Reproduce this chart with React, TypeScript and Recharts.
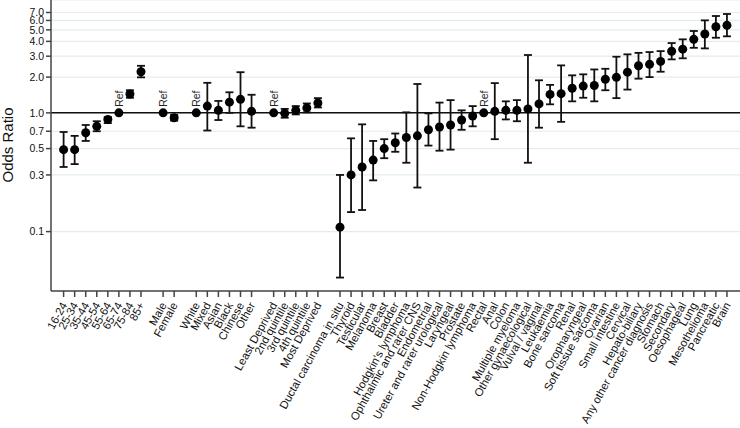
import React from 'react';
import { ScatterChart, Scatter, XAxis, YAxis, CartesianGrid, ReferenceLine, ErrorBar, LabelList } from 'recharts';

// '' marks an empty slot between groups
const categories = [
  '16-24', '25-34', '35-44', '45-54', '55-64', '65-74', '75-84', '85+', '',
  'Male', 'Female', '',
  'White', 'Mixed', 'Asian', 'Black', 'Chinese', 'Other', '',
  'Least Deprived', '2nd quintile', '3rd quintile', '4th quintile', 'Most Deprived', '',
  'Ductal carcinoma in situ', 'Thyroid', 'Testicular', 'Melanoma', 'Breast', 'Bladder',
  "Hodgkin's lymphoma", 'Ophthalmic and rarer CNS', 'Endometrial', 'Ureter and rarer urological',
  'Laryngeal', 'Prostate', 'Non-Hodgkin lymphoma', 'Rectal', 'Anal', 'Colon', 'Multiple myeloma',
  'Other gynaecological', 'Vulval / vaginal', 'Leukaemia', 'Bone sarcoma', 'Renal', 'Oropharyngeal',
  'Soft tissue sarcoma', 'Ovarian', 'Small intestine', 'Cervical', 'Hepato-biliary',
  'Any other cancer diagnosis', 'Stomach', 'Secondary', 'Oesophageal', 'Lung', 'Mesothelioma',
  'Pancreatic', 'Brain',
];

const oddsRatio = [
  0.49, 0.49, 0.68, 0.77, 0.88, 1, 1.44, 2.22, null,
  1, 0.91, null,
  1, 1.14, 1.05, 1.23, 1.30, 1.03, null,
  1, 0.99, 1.05, 1.10, 1.21, null,
  0.109, 0.30, 0.35, 0.40, 0.50, 0.56, 0.62, 0.64, 0.72, 0.76, 0.79, 0.87, 0.94, 1, 1.03, 1.05, 1.05,
  1.08, 1.19, 1.43, 1.45, 1.61, 1.68, 1.70, 1.92, 1.99, 2.20, 2.49, 2.56, 2.71, 3.30, 3.44, 4.16, 4.61,
  5.31, 5.46,
];

const ciLow = [
  0.35, 0.37, 0.58, 0.70, 0.82, 1, 1.34, 1.99, null,
  1, 0.86, null,
  1, 0.71, 0.87, 1.00, 0.77, 0.75, null,
  1, 0.91, 0.97, 1.01, 1.11, null,
  0.041, 0.146, 0.152, 0.27, 0.415, 0.47, 0.38, 0.235, 0.53, 0.48, 0.49, 0.72, 0.77, 1, 0.60, 0.88, 0.85,
  0.38, 0.75, 1.18, 0.84, 1.25, 1.34, 1.25, 1.55, 1.33, 1.57, 1.94, 2.00, 2.22, 2.82, 2.88, 3.53, 3.49,
  4.29, 4.41,
];

const ciHigh = [
  0.69, 0.64, 0.79, 0.85, 0.92, 1, 1.55, 2.49, null,
  1, 0.96, null,
  1, 1.79, 1.26, 1.49, 2.20, 1.42, null,
  1, 1.08, 1.14, 1.20, 1.33, null,
  0.30, 0.61, 0.80, 0.58, 0.60, 0.67, 1.01, 1.75, 0.99, 1.22, 1.28, 1.05, 1.14, 1, 1.78, 1.25, 1.28,
  3.07, 1.88, 1.72, 2.51, 2.07, 2.11, 2.32, 2.35, 2.97, 3.11, 3.20, 3.25, 3.31, 3.87, 4.16, 4.89, 6.01,
  6.54, 6.80,
];

const referenceGroups = ['65-74', 'Male', 'White', 'Least Deprived', 'Rectal'];

const yTicks = [0.1, 0.3, 0.5, 0.7, 1.0, 2.0, 3.0, 4.0, 5.0, 6.0, 7.0];

const points = categories
  .map((name, i) => ({ name, x: i, or: oddsRatio[i], lo: ciLow[i], hi: ciHigh[i] }))
  .filter(d => d.name !== '');

const estimates = points
  .filter(d => !referenceGroups.includes(d.name))
  .map(d => ({ ...d, err: [d.or - d.lo, d.hi - d.or] }));

const refs = points
  .filter(d => referenceGroups.includes(d.name))
  .map(d => ({ ...d, label: 'Ref' }));

const xTicks = points.map(d => d.x);

const FONT = '"Liberation Sans", Arial, sans-serif';

const Dot = (props: any) => <circle cx={props.cx} cy={props.cy} r={4.5} fill="#000" />;

const AngledTick = (props: any) => {
  const { x, y, payload } = props;
  const ax = x + 4;
  const ay = y + 6;
  return (
    <text x={ax} y={ay} transform={`rotate(-61, ${ax}, ${ay})`} textAnchor="end"
      fontFamily={FONT} fontSize={11.3} fill="#111">
      {categories[payload.value]}
    </text>
  );
};

const RefLabel = (props: any) => {
  const { x, y, width, height, value } = props;
  const cx = x + width / 2;
  const cy = y + height / 2;
  const tx = cx + 4;
  const ty = cy - 6;
  return (
    <text x={tx} y={ty} transform={`rotate(-90, ${tx}, ${ty})`} textAnchor="start"
      fontFamily={FONT} fontSize={10.5} fill="#222">
      {value}
    </text>
  );
};

const YTitle = () => (
  <text x={13} y={145} transform="rotate(-90, 13, 145)" textAnchor="middle"
    fontFamily={FONT} fontSize={15} fill="#111">
    Odds Ratio
  </text>
);

const App = () => {
  return (
    <div style={{ position: 'absolute', left: 0, top: 0 }}>
      <ScatterChart width={740} height={428} margin={{ top: 0, right: 0, left: 0, bottom: 0 }}>
        <CartesianGrid vertical={false} stroke="#e3edf0" strokeWidth={1.2} />
        <XAxis type="number" dataKey="x" domain={[-1.14, 61.18]} allowDataOverflow
          ticks={xTicks} interval={0} tick={<AngledTick />} height={137}
          stroke="#444" strokeWidth={1.5} tickSize={6} />
        <YAxis type="number" dataKey="or" scale="log" domain={[0.0316, 8.92]} allowDataOverflow
          ticks={yTicks} interval={0} width={51} stroke="#444" strokeWidth={1.5} tickSize={5}
          tickFormatter={(v: number) => v.toFixed(1)}
          tick={{ fontFamily: FONT, fontSize: 10.5, fill: '#111' }}
          label={<YTitle />} />
        <ReferenceLine y={1} stroke="#111" strokeWidth={1.5} />
        <Scatter data={estimates} shape={<Dot />} isAnimationActive={false}>
          <ErrorBar dataKey="err" direction="y" width={4} stroke="#111" strokeWidth={1.8} />
        </Scatter>
        <Scatter data={refs} shape={<Dot />} isAnimationActive={false}>
          <LabelList dataKey="label" content={<RefLabel />} />
        </Scatter>
      </ScatterChart>
    </div>
  );
};

export default App;
